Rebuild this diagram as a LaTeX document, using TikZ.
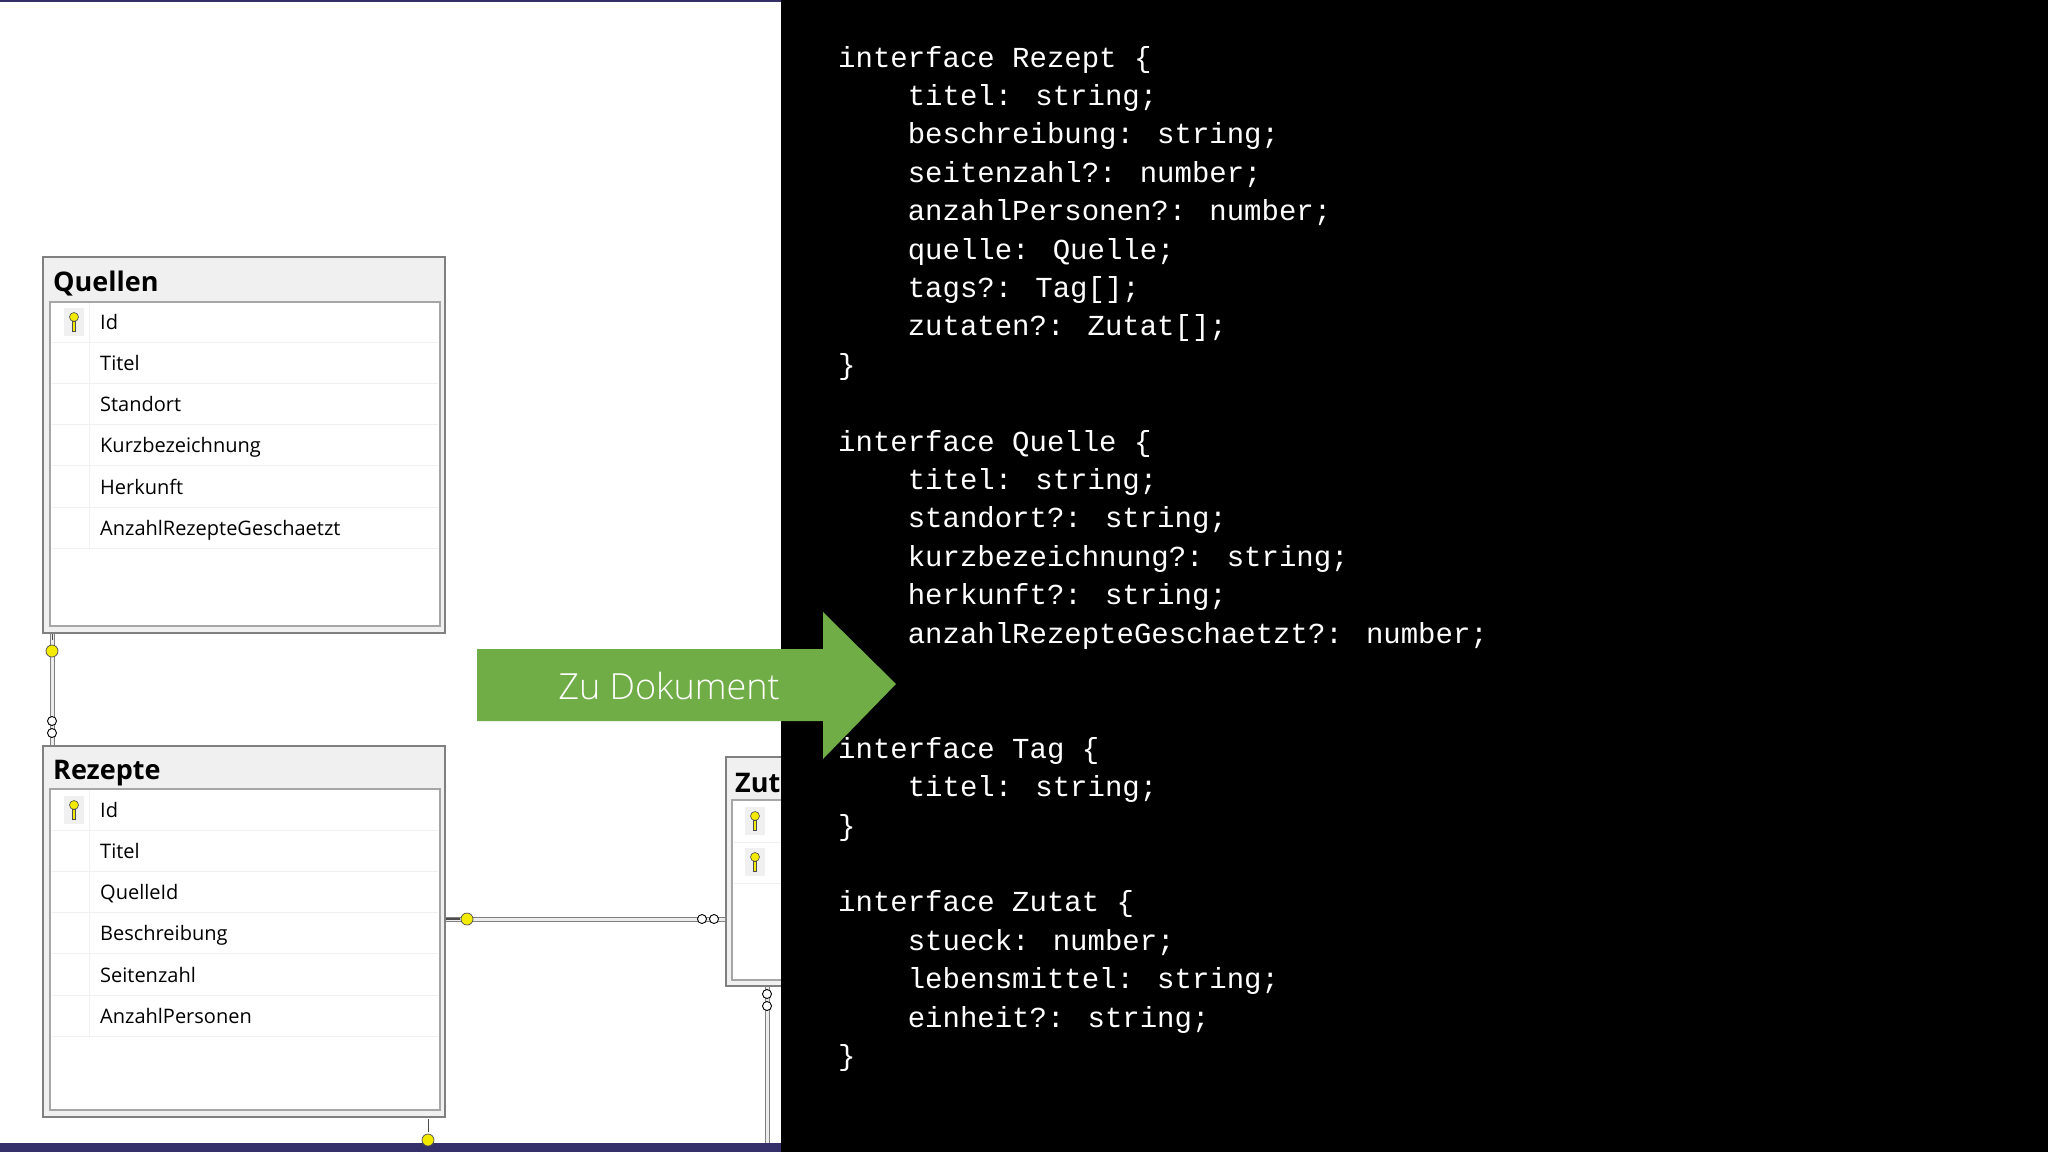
\documentclass[tikz,border=0pt]{standalone}
\usepackage{fontspec}
\setmainfont{Open Sans}
\newfontfamily\codefont{Liberation Mono}
\newfontfamily\arrowfont{Open Sans Light}
\usetikzlibrary{calc}
\definecolor{hdr}{HTML}{F0F0F0}
\definecolor{brd}{HTML}{808080}
\definecolor{grn}{HTML}{70AD47}
\definecolor{purp}{HTML}{35306A}
\definecolor{keyy}{HTML}{F2EA00}
\tikzset{
  outerbox/.style={draw=brd, line width=1.5pt, fill=hdr},
  innerbox/.style={draw=brd!70, line width=1.2pt, fill=white},
  rowtxt/.style={anchor=west, inner sep=0pt, font=\fontsize{20}{20}\selectfont},
  ttl/.style={anchor=west, inner sep=0pt, font=\fontsize{27}{27}\selectfont\bfseries},
  code/.style={anchor=west, inner sep=0pt, text=white, font=\codefont\fontsize{29}{29}\selectfont},
  rel/.style={draw=brd, double=white!85!gray, double distance=3pt, line width=1pt},
  inf/.style={circle, draw=black, fill=white, line width=0.9pt, inner sep=0pt, minimum size=9pt},
  keyc/.style={circle, draw=black!70, fill=keyy, line width=0.7pt, inner sep=0pt, minimum size=12pt},
}
\newcommand{\keyicon}[2]{%
  \fill[hdr] (#1-10,#2-14) rectangle (#1+10,#2+14);
  \draw[black!70, fill=keyy, line width=0.6pt] (#1,#2-5) circle (4.5pt);
  \draw[black!70, fill=keyy, line width=0.6pt] (#1-1.5,#2-1) rectangle (#1+1.5,#2+9);
}
\begin{document}
\begin{tikzpicture}[x=1pt,y=-1pt]
\useasboundingbox (0,0) rectangle (2048,1152);
\fill[white] (0,0) rectangle (781,1152);
\fill[black] (781,0) rectangle (2048,1152);
\fill[purp] (0,0) rectangle (781,2);
\fill[purp] (0,1143) rectangle (781,1152);

% connectors
\coordinate (q1) at (52,633);
\coordinate (q2) at (52,746);
\draw[rel] (q1) -- (q2);
\coordinate (r1) at (445,919);
\coordinate (z1) at (726,919);
\draw[rel] (r1) -- (z1);
\coordinate (z2) at (767,986);
\coordinate (z3) at (767,1143);
\draw[rel] (z2) -- (z3);

% Quellen
\draw[outerbox] (43,257) rectangle (445,633);
\draw[innerbox] (50,302) rectangle (440,626);
\node[ttl] (tq) at (53,284) {Quellen};
\foreach \t [count=\i from 0] in {Id,Titel,Standort,Kurzbezeichnung,Herkunft,AnzahlRezepteGeschaetzt}{
  \draw[black!6, line width=1pt] (52,{342+41.3*\i}) -- (438,{342+41.3*\i});
  \node[rowtxt, anchor=base west] (q\i) at (100,{329+41.3*\i}) {\t};
}
\draw[black!6, line width=1pt] (89,303) -- (89,549);
\keyicon{74}{322}

% Rezepte
\draw[outerbox] (43,746) rectangle (445,1117);
\draw[innerbox] (50,789) rectangle (440,1110);
\node[ttl] (tr) at (53,773) {Rezepte};
\foreach \t [count=\i from 0] in {Id,Titel,QuelleId,Beschreibung,Seitenzahl,AnzahlPersonen}{
  \draw[black!6, line width=1pt] (52,{830+41.3*\i}) -- (438,{830+41.3*\i});
  \node[rowtxt, anchor=base west] (r\i) at (100,{817+41.3*\i}) {\t};
}
\draw[black!6, line width=1pt] (89,790) -- (89,1037);
\keyicon{74}{810}

% Zut
\draw[outerbox] (726,757) rectangle (800,986);
\draw[innerbox] (732,800) rectangle (800,980);
\node[ttl] (tz) at (735,783) {Zut};
\keyicon{755}{821}
\keyicon{755}{862}
\draw[black!6, line width=1pt] (734,842) -- (800,842);
\draw[black!6, line width=1pt] (734,883) -- (800,883);

% relationship end symbols
\node[keyc] (k1) at (52,651) {};
\draw[black!70, line width=1pt] (52,640) -- (52,634);
\node[inf] (i1a) at (52,721) {};
\node[inf] (i1b) at (52,733) {};
\node[keyc] (k2) at (467,919) {};
\draw[black!70, line width=1.2pt] (446,919) -- (460,919);
\node[inf] (i2a) at (702,919) {};
\node[inf] (i2b) at (714,919) {};
\node[inf] (i3a) at (767,994) {};
\node[inf] (i3b) at (767,1006) {};
\node[keyc] (k3) at (428,1140) {};
\draw[black!70, line width=1pt] (428,1119) -- (428,1132);

% code
\fill[black] (781,0) rectangle (2048,1143);
\foreach \l [count=\i from 0] in {
{interface Rezept \{},
{\ \ \ \ titel: string;},
{\ \ \ \ beschreibung: string;},
{\ \ \ \ seitenzahl?: number;},
{\ \ \ \ anzahlPersonen?: number;},
{\ \ \ \ quelle: Quelle;},
{\ \ \ \ tags?: Tag[];},
{\ \ \ \ zutaten?: Zutat[];},
{\}},
{},
{interface Quelle \{},
{\ \ \ \ titel: string;},
{\ \ \ \ standort?: string;},
{\ \ \ \ kurzbezeichnung?: string;},
{\ \ \ \ herkunft?: string;},
{\ \ \ \ anzahlRezepteGeschaetzt?: number;},
{\}},
{},
{interface Tag \{},
{\ \ \ \ titel: string;},
{\}},
{},
{interface Zutat \{},
{\ \ \ \ stueck: number;},
{\ \ \ \ lebensmittel: string;},
{\ \ \ \ einheit?: string;},
{\}}}{
  \node[code, anchor=base west] (c\i) at (838,{67+38.4*\i}) {\l};
}

% green arrow
\fill[grn] (477,649) -- (823,649) -- (823,612) -- (896,684) -- (823,759) -- (823,721) -- (477,721) -- cycle;
\node[text=white, font=\arrowfont\fontsize{36}{36}\selectfont, inner sep=0pt] (arr) at (669,686) {Zu Dokument};
\end{tikzpicture}
\end{document}
